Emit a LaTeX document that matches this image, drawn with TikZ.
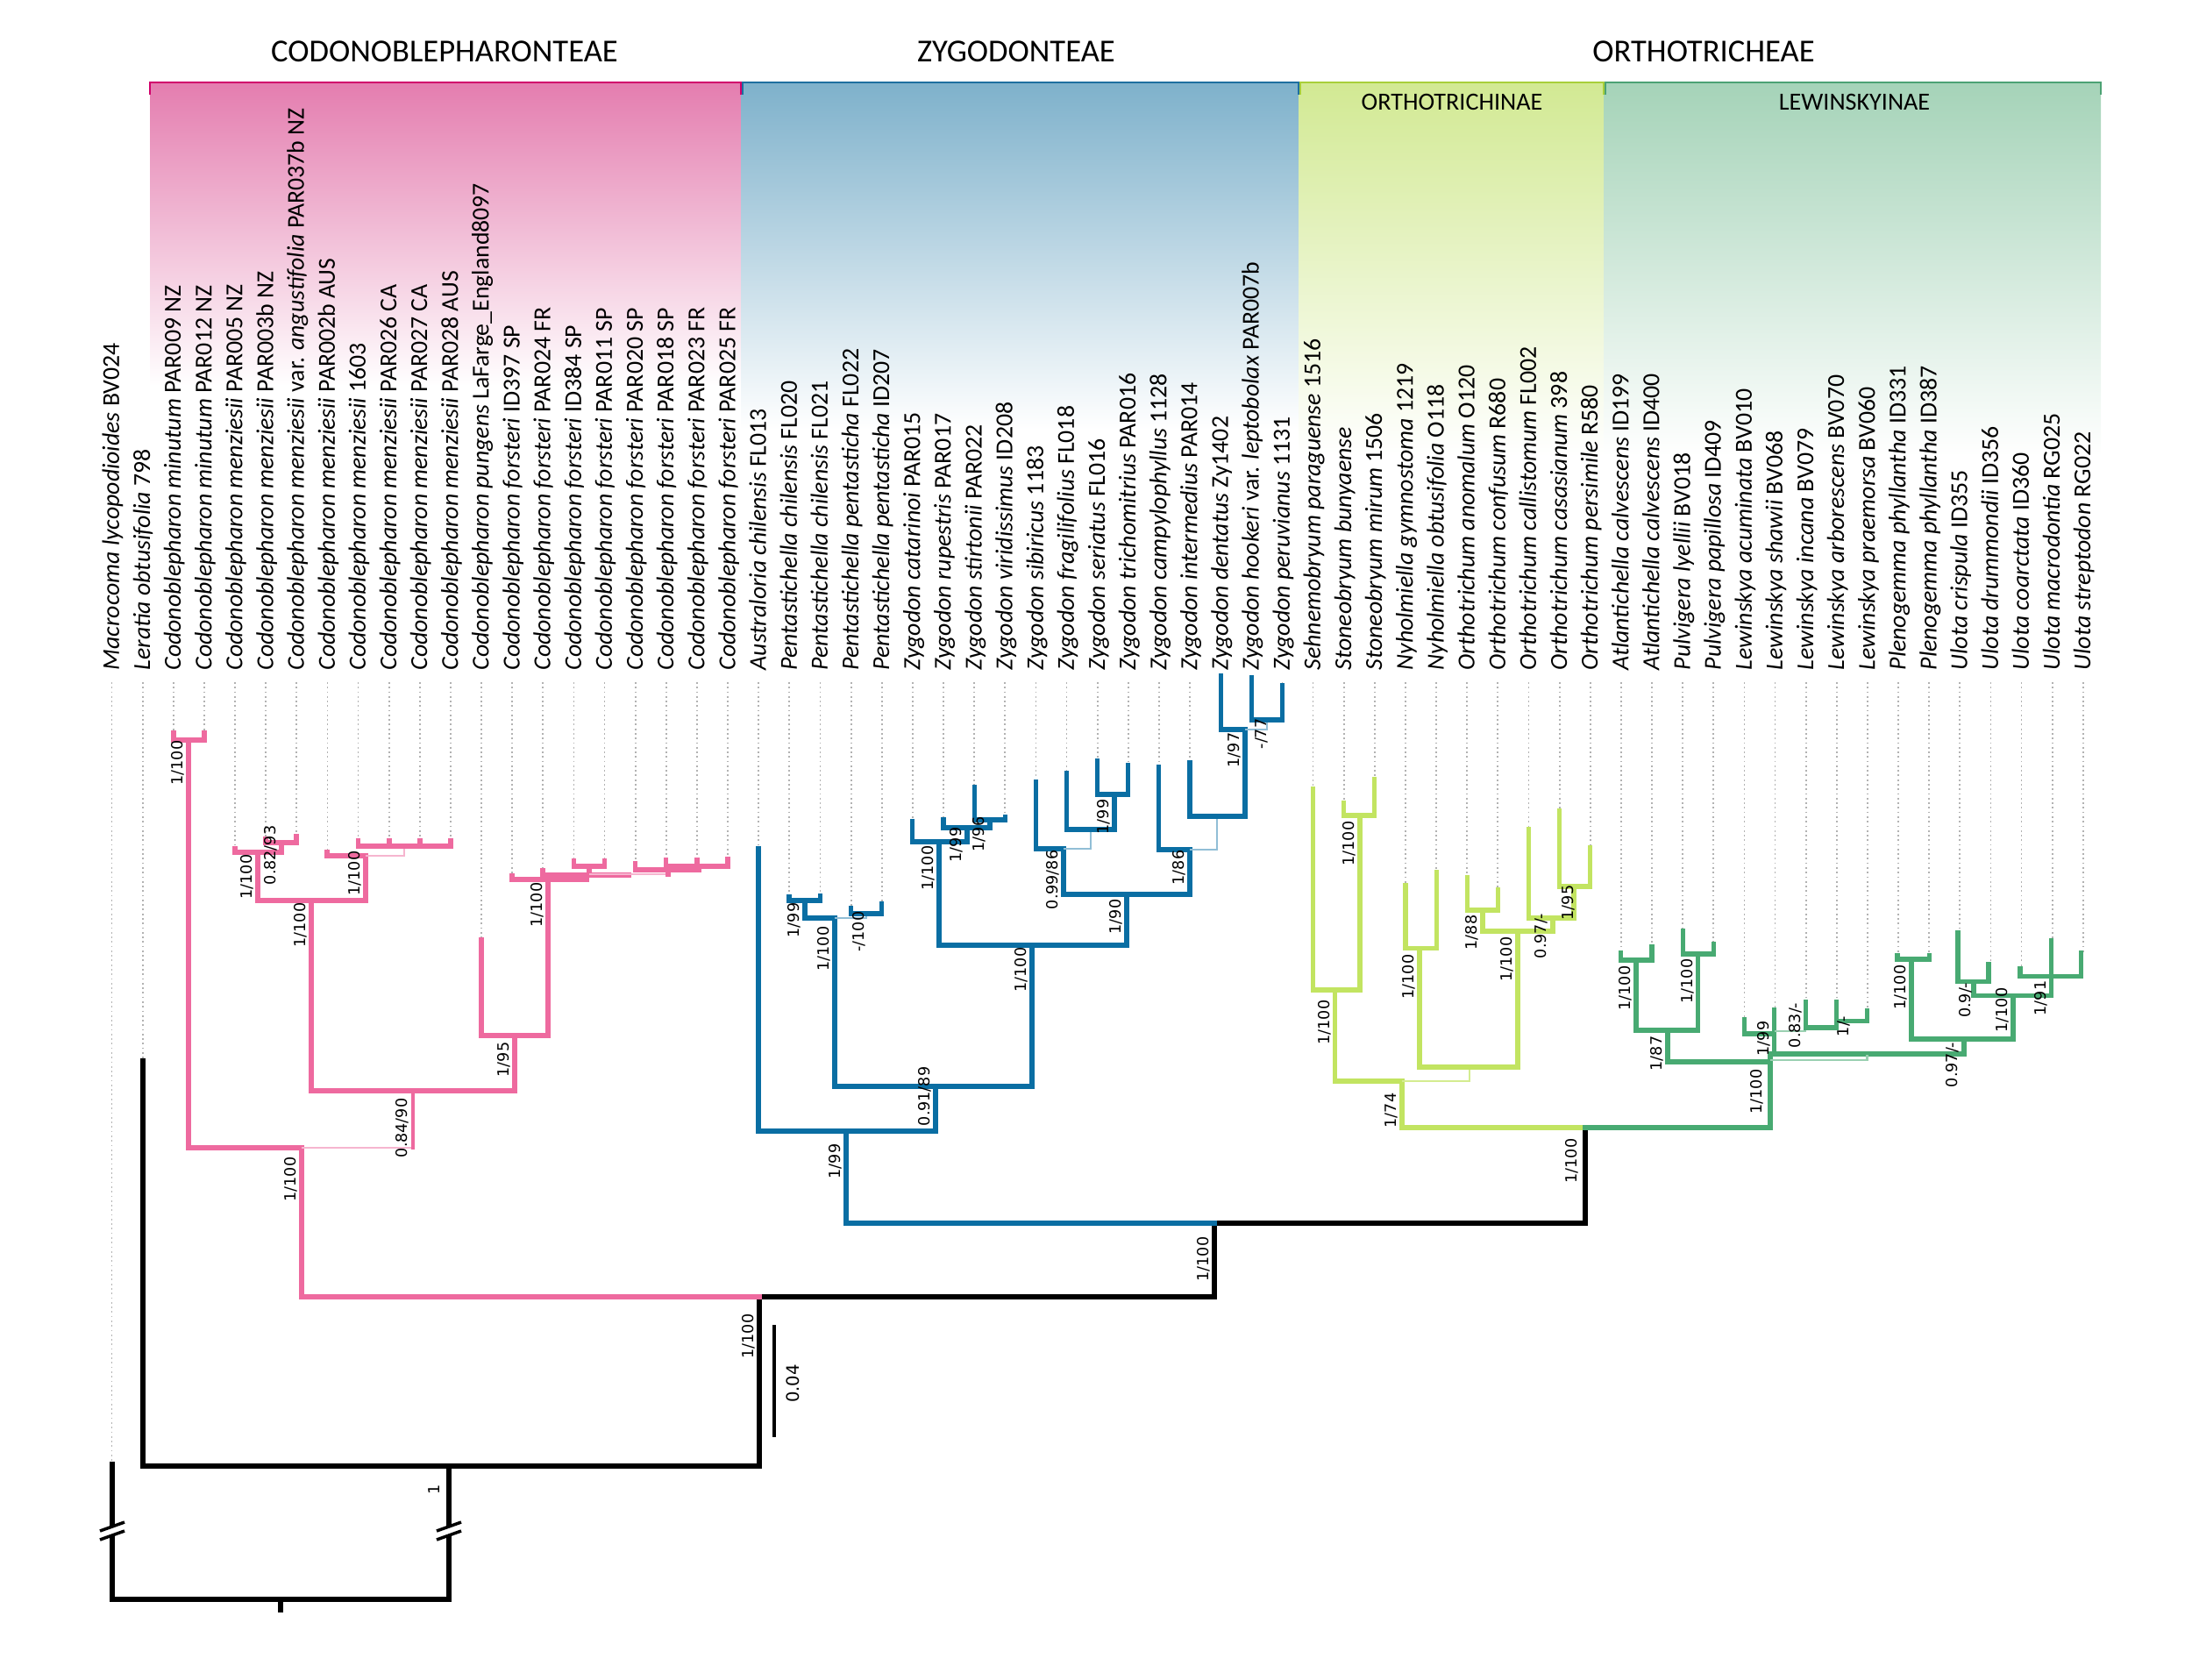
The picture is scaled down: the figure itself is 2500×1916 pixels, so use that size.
\documentclass[tikz,border=0pt]{standalone}
\usepackage{fontspec}
\setmainfont{Carlito}
\newfontfamily\suppfont{DejaVu Sans}

\definecolor{codonPink}{RGB}{238,106,159}
\definecolor{codonHead}{RGB}{228,125,175}
\definecolor{codonRule}{RGB}{209,0,107}
\definecolor{zygoBlue} {RGB}{10,110,163}
\definecolor{zygoHead} {RGB}{126,177,203}
\definecolor{zygoRule} {RGB}{30,111,160}
\definecolor{orthoLime}{RGB}{194,228,97}
\definecolor{orthoHead}{RGB}{210,233,147}
\definecolor{orthoRule}{RGB}{168,207,58}
\definecolor{lewGreen} {RGB}{72,170,114}
\definecolor{lewHead}  {RGB}{165,211,184}
\definecolor{lewRule}  {RGB}{76,162,116}

\tikzset{
  branch/.style={line width=1.45pt,line cap=rect,line join=miter},
  blackbr/.style={line width=1.7pt,line cap=rect,line join=miter,draw=black},
  pinkbr/.style={branch,draw=codonPink},
  pinkthin/.style={line width=0.6pt,draw=codonPink!50},
  bluebr/.style={branch,draw=zygoBlue},
  bluethin/.style={line width=0.6pt,draw=zygoBlue!45},
  orthobr/.style={branch,draw=orthoLime},
  orththin/.style={line width=0.6pt,draw=orthoLime!70},
  lewbr/.style={branch,draw=lewGreen},
  lewthin/.style={line width=0.6pt,draw=lewGreen!55},
  tipdots/.style={densely dotted,line width=0.5pt,draw=black!30},
  taxon/.style={rotate=90,anchor=mid west,inner sep=0pt,
                font=\fontsize{7.9}{9}\selectfont},
  supp/.style={rotate=90,anchor=base east,inner sep=0pt,
               font=\suppfont\fontsize{5}{6}\selectfont},
  tribe/.style={font=\fontsize{10.4}{12}\selectfont},
  subtribe/.style={font=\fontsize{8}{10}\selectfont},
  headrule/.style={line width=0.8pt}
}

\begin{document}
\begin{tikzpicture}[x=0.01cm,y=-0.01cm]
  \useasboundingbox (0,0) rectangle (2500,1916);

  % Cabecalhos das tribos
  \shade[top color=codonHead,bottom color=white] (171,94) rectangle (845,440);
  \shade[top color=zygoHead,bottom color=white]  (845,94) rectangle (1481,490);
  \shade[top color=orthoHead,bottom color=white] (1481,94) rectangle (1829,520);
  \shade[top color=lewHead,bottom color=white]   (1829,94) rectangle (2396,520);
  \draw[headrule,codonRule] (171,108) -- (171,94) -- (845,94) -- (845,108);
  \draw[headrule,zygoRule]  (847,108) -- (847,94) -- (1481,94) -- (1481,108);
  \draw[headrule,orthoRule] (1483,108) -- (1483,94) -- (1829,94) -- (1829,108);
  \draw[headrule,lewRule]   (1831,108) -- (1831,94) -- (2396,94) -- (2396,108);
  \node[tribe] (codonTitle) at (507,59) {CODONOBLEPHARONTEAE};
  \node[tribe] (zygoTitle) at (1159,59) {ZYGODONTEAE};
  \node[tribe] (orthoTitle) at (1943,59) {ORTHOTRICHEAE};
  \node[subtribe] (orthinTitle) at (1656,116) {ORTHOTRICHINAE};
  \node[subtribe] (lewTitle) at (2115,116) {LEWINSKYINAE};

  % Terminais: indice / topo do ramo / nome
  \foreach \i/\tipy/\name in {
    0/1670/{\textit{Macrocoma lycopodioides} BV024},
    1/1210/{\textit{Leratia obtusifolia} 798},
    2/836/{\textit{Codonoblepharon minutum} PAR009 NZ},
    3/836/{\textit{Codonoblepharon minutum} PAR012 NZ},
    4/968/{\textit{Codonoblepharon menziesii} PAR005 NZ},
    5/957/{\textit{Codonoblepharon menziesii} PAR003b NZ},
    6/954/{\textit{Codonoblepharon menziesii} var. \textit{angustifolia} PAR037b NZ},
    7/972/{\textit{Codonoblepharon menziesii} PAR002b AUS},
    8/959/{\textit{Codonoblepharon menziesii} 1603},
    9/959/{\textit{Codonoblepharon menziesii} PAR026 CA},
    10/959/{\textit{Codonoblepharon menziesii} PAR027 CA},
    11/959/{\textit{Codonoblepharon menziesii} PAR028 AUS},
    12/1072/{\textit{Codonoblepharon pungens} LaFarge\_England8097},
    13/999/{\textit{Codonoblepharon forsteri} ID397 SP},
    14/993/{\textit{Codonoblepharon forsteri} PAR024 FR},
    15/982/{\textit{Codonoblepharon forsteri} ID384 SP},
    16/982/{\textit{Codonoblepharon forsteri} PAR011 SP},
    17/985/{\textit{Codonoblepharon forsteri} PAR020 SP},
    18/981/{\textit{Codonoblepharon forsteri} PAR018 SP},
    19/981/{\textit{Codonoblepharon forsteri} PAR023 FR},
    20/980/{\textit{Codonoblepharon forsteri} PAR025 FR},
    21/968/{\textit{Australoria chilensis} FL013},
    22/1023/{\textit{Pentastichella chilensis} FL020},
    23/1022/{\textit{Pentastichella chilensis} FL021},
    24/1036/{\textit{Pentastichella pentasticha} FL022},
    25/1031/{\textit{Pentastichella pentasticha} ID207},
    26/937/{\textit{Zygodon catarinoi} PAR015},
    27/935/{\textit{Zygodon rupestris} PAR017},
    28/898/{\textit{Zygodon stirtonii} PAR022},
    29/932/{\textit{Zygodon viridissimus} ID208},
    30/892/{\textit{Zygodon sibiricus} 1183},
    31/882/{\textit{Zygodon fragilifolius} FL018},
    32/868/{\textit{Zygodon seriatus} FL016},
    33/873/{\textit{Zygodon trichomitrius} PAR016},
    34/875/{\textit{Zygodon campylophyllus} 1128},
    35/870/{\textit{Zygodon intermedius} PAR014},
    36/778/{\textit{Zygodon dentatus} Zy1402},
    37/778/{\textit{Zygodon hookeri} var. \textit{leptobolax} PAR007b},
    38/782/{\textit{Zygodon peruvianus} 1131},
    39/900/{\textit{Sehnemobryum paraguense} 1516},
    40/916/{\textit{Stoneobryum bunyaense}},
    41/889/{\textit{Stoneobryum mirum} 1506},
    42/1010/{\textit{Nyholmiella gymnostoma} 1219},
    43/995/{\textit{Nyholmiella obtusifolia} O118},
    44/1001/{\textit{Orthotrichum anomalum} O120},
    45/1015/{\textit{Orthotrichum confusum} R680},
    46/946/{\textit{Orthotrichum callistomum} FL002},
    47/925/{\textit{Orthotrichum casasianum} 398},
    48/967/{\textit{Orthotrichum persimile} R580},
    49/1087/{\textit{Atlantichella calvescens} ID199},
    50/1080/{\textit{Atlantichella calvescens} ID400},
    51/1062/{\textit{Pulvigera lyellii} BV018},
    52/1076/{\textit{Pulvigera papillosa} ID409},
    53/1164/{\textit{Lewinskya acuminata} BV010},
    54/1152/{\textit{Lewinskya shawii} BV068},
    55/1142/{\textit{Lewinskya incana} BV079},
    56/1142/{\textit{Lewinskya arborescens} BV070},
    57/1152/{\textit{Lewinskya praemorsa} BV060},
    58/1090/{\textit{Plenogemma phyllantha} ID331},
    59/1090/{\textit{Plenogemma phyllantha} ID387},
    60/1063/{\textit{Ulota crispula} ID355},
    61/1099/{\textit{Ulota drummondii} ID356},
    62/1104/{\textit{Ulota coarctata} ID360},
    63/1073/{\textit{Ulota macrodontia} RG025},
    64/1087/{\textit{Ulota streptodon} RG022}}{
    \draw[tipdots] ({127.5+35.13*\i},778) -- ({127.5+35.13*\i},\tipy);
    \node[taxon] (tip\i) at ({127.5+35.13*\i},765) {\name};
  }

  % Espinha dorsal (preto)
  \draw[blackbr] (128,1670) -- (128,1824) -- (512,1824) -- (512,1672);
  \draw[blackbr] (320,1824) -- (320,1836);
  \draw[blackbr] (163,1210) |- (866,1672);
  \draw[blackbr] (866,1672) -- (866,1479) -- (1385,1479) -- (1385,1395)
    -- (1808,1395) -- (1808,1286);
  \foreach \bx in {128,512}{
    \fill[white] (\bx-8,1742) rectangle (\bx+8,1750);
    \draw[line width=1pt] (\bx-14,1746) -- (\bx+14,1736);
    \draw[line width=1pt] (\bx-14,1756) -- (\bx+14,1746);
  }

  % Codonoblepharonteae
  \draw[pinkbr] (344,1479) -- (866,1479);
  \draw[pinkbr] (198,836) |- (233,844) -- (233,836);
  \draw[pinkbr] (215,844) |- (344,1309) -- (344,1479);
  \draw[pinkthin] (344,1309) -- (471,1309);
  \draw[pinkbr,line width=1pt] (471,1309) -- (471,1244);
  \draw[pinkbr] (355,1027) |- (587,1244) -- (587,1181);
  \draw[pinkbr] (294,972) |- (417,1027) -- (417,976);
  \draw[pinkbr] (268,968) |- (321,972) -- (321,961);
  \draw[pinkbr] (303,957) |- (338,961) -- (338,954);
  \draw[pinkbr] (373,972) |- (417,976);
  \draw[pinkthin] (417,976) -| (461,965);
  \draw[pinkbr] (408.5,959) |- (514,965) -- (514,959);
  \draw[pinkbr] (444,959) -- (444,965) (479,959) -- (479,965);
  \draw[pinkbr] (549,1072) |- (625,1181) -- (625,1003);
  \draw[pinkbr] (584,999) |- (669,1003) -- (669,998);
  \draw[pinkbr] (619,993) |- (717,998);
  \draw[pinkbr] (654.5,982) |- (689.6,988) -- (689.6,982);
  \draw[pinkbr] (672,988) -- (672,997);
  \draw[pinkthin] (672,997) -- (762,997);
  \draw[pinkbr] (762,997) -- (762,992);
  \draw[pinkbr] (724.7,985) |- (797,992) -- (797,988);
  \draw[pinkbr] (759.8,981) |- (830,988) -- (830,980);
  \draw[pinkbr] (795,981) -- (795,988);

  % Zygodonteae
  \draw[bluebr] (965,1395) -- (1385,1395);
  \draw[bluebr] (865,968) |- (1067,1290) -- (1067,1239);
  \draw[bluebr] (965,1290) -- (965,1395);
  \draw[bluebr] (952,1047) |- (1177,1239) -- (1177,1078);
  \draw[bluebr] (918,1027) |- (952,1047);
  \draw[bluebr] (900,1023) |- (935.5,1027) -- (935.5,1022);
  \draw[bluethin] (952,1047) -| (988,1042);
  \draw[bluebr] (970.6,1036) |- (1005.8,1042) -- (1005.8,1031);
  \draw[bluebr] (1071,960) |- (1285,1078) -- (1285,1020);
  \draw[bluebr] (1040.9,937) |- (1103,960) -- (1103,944);
  \draw[bluebr] (1076,935) |- (1129,944) -- (1129,935);
  \draw[bluebr] (1111.1,898) |- (1146.3,935) -- (1146.3,932);
  \draw[bluebr] (1213,968) |- (1357,1020) -- (1357,969);
  \draw[bluebr] (1181.4,892) |- (1213,968);
  \draw[bluethin] (1213,968) -| (1244,946);
  \draw[bluebr] (1216.5,882) |- (1271,946) -- (1271,906);
  \draw[bluebr] (1251.7,868) |- (1286.8,906) -- (1286.8,873);
  \draw[bluebr] (1321.9,875) |- (1357,969);
  \draw[bluethin] (1357,969) -| (1388,931);
  \draw[bluebr] (1357,870) |- (1420,931) -- (1420,832);
  \draw[bluebr] (1392.2,771) |- (1420,832);
  \draw[bluethin] (1420,832) -| (1445,821);
  \draw[bluebr] (1427.3,773) |- (1462.4,821) -- (1462.4,782);

  % Orthotrichinae
  \draw[orthobr] (1599,1286) -- (1808,1286);
  \draw[orthobr] (1522.5,1129) |- (1599,1233) -- (1599,1286);
  \draw[orthobr] (1497.6,900) |- (1551,1129) -- (1551,930);
  \draw[orthobr] (1532.7,916) |- (1567.8,930) -- (1567.8,889);
  \draw[orththin] (1599,1233) -| (1676,1217);
  \draw[orthobr] (1619,1081.5) |- (1731,1217) -- (1731,1062);
  \draw[orthobr] (1603,1010) |- (1638.1,1081.5) -- (1638.1,995);
  \draw[orthobr] (1691,1038) |- (1771,1062) -- (1771,1047);
  \draw[orthobr] (1673.2,1001) |- (1708.4,1038) -- (1708.4,1015);
  \draw[orthobr] (1743.5,946) |- (1795,1047) -- (1795,1011);
  \draw[orthobr] (1778.6,925) |- (1813.7,1011) -- (1813.7,967);

  % Lewinskyinae
  \draw[lewbr] (1808,1286) -- (2019,1286);
  \draw[lewbr] (1902,1175) |- (2019,1211);
  \draw[lewbr] (2019,1286) -- (2019,1202) -- (2240,1202) -- (2240,1185);
  \draw[lewthin] (2019,1209) -| (2129.5,1203);
  \draw[lewbr] (2023.5,1202) -- (2023.5,1152);
  \draw[lewbr] (1989.4,1163) |- (2023.5,1179);
  \draw[lewthin] (2023.5,1176) -- (2059.7,1176);
  \draw[lewbr] (2059.7,1143) |- (2094.8,1172) -- (2094.8,1143);
  \draw[lewbr] (2094.8,1164.4) -| (2129.9,1153);
  \draw[lewbr] (1866,1095) |- (1936.5,1175) -- (1936.5,1088);
  \draw[lewbr] (1848.9,1087) |- (1884,1095) -- (1884,1080);
  \draw[lewbr] (1919.1,1062) |- (1954.3,1088) -- (1954.3,1076.5);
  \draw[lewbr] (2180,1094) |- (2296,1185) -- (2296,1135.6);
  \draw[lewbr] (2164,1090) |- (2200.2,1094) -- (2200.2,1090);
  \draw[lewbr] (2251,1119.7) |- (2339.5,1135.6) -- (2339.5,1073);
  \draw[lewbr] (2233,1064) |- (2268,1119.7) -- (2268,1100);
  \draw[lewbr] (2304,1104.7) |- (2373.6,1113.7) -- (2373.6,1087);

  % Suportes (PP/BS): ramo x / topo do rotulo / valor
  \foreach \x/\y/\v [count=\k] in {
    215/844/{1/100}, 294/974/{1/100}, 321/941/{0.82/93}, 417/970/{1/100},
    355/1029/{1/100}, 625/1006/{1/100}, 587/1188/{1/95}, 471/1252/{0.84/90},
    344/1319/{1/100},
    866/1498/{1/100}, 1385/1410/{1/100}, 1805/1298/{1/100}, 508/1693/{1},
    965/1304/{1/99}, 1067/1216/{0.91/89}, 952/1056/{1/100}, 918/1029/{1/99},
    992/1039/{-/100}, 1177/1080/{1/100}, 1071/964/{1/100}, 1103/943/{1/99},
    1129/931/{1/96}, 1213/969/{0.99/86}, 1271/911/{1/99}, 1285/1025/{1/90},
    1357/969/{1/86}, 1420/835/{1/97}, 1451/819/{-/77},
    1599/1246/{1/74}, 1522.5/1140/{1/100}, 1551/936/{1/100}, 1619/1088/{1/100},
    1731/1068/{1/100}, 1691/1043/{1/88}, 1770/1041/{0.97/-}, 1801/1009/{1/95},
    2016/1219/{1/100}, 1902/1181/{1/87}, 1866/1101/{1/100}, 1937/1093/{1/100},
    2023.5/1164/{1/99}, 2060/1143/{0.83/-}, 2115/1158/{1/-}, 2239/1188/{0.97/-},
    2180/1100/{1/100}, 2254/1120/{0.9/-}, 2296/1126/{1/100}, 2340/1118/{1/91}}{
    \node[supp] (supp\k) at ({\x-6.5},\y) {\v};
  }

  % Escala
  \draw[line width=1.4pt] (883,1511) -- (883,1639);
  \node[rotate=90,font=\suppfont\fontsize{5.6}{7}\selectfont] (scaleLab)
    at (904,1578) {0.04};
\end{tikzpicture}
\end{document}
